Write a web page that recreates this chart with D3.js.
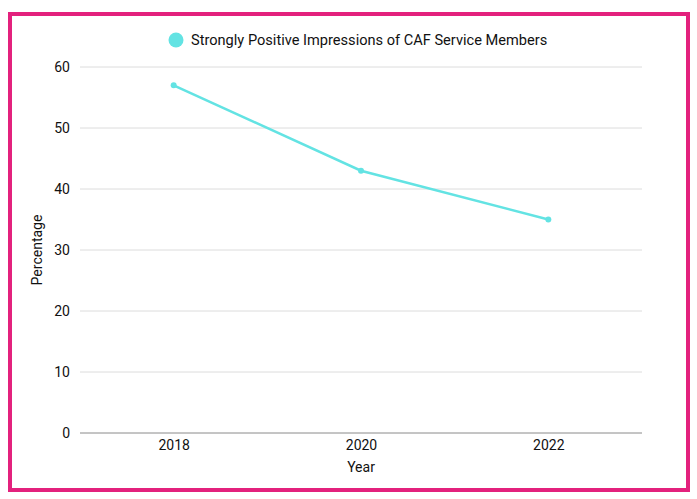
<!DOCTYPE html>
<html><head><meta charset="utf-8">
<script src="https://cdn.jsdelivr.net/npm/d3@7"></script>
<style>body{margin:0;background:#fff;font-family:Roboto,sans-serif;}</style>
</head><body>
<svg id="c" width="697" height="499"></svg>
<script>
const years = ["2018", "2020", "2022"];
const values = [57, 43, 35];
const yTicks = [0, 10, 20, 30, 40, 50, 60];
const seriesName = "Strongly Positive Impressions of CAF Service Members";
const color = "#63e3e3";

(function () {
const svg = d3.select("#c");
svg.append("rect").attr("x", 10).attr("y", 14).attr("width", 678).attr("height", 476)
  .attr("fill", "#fff").attr("stroke", "#e3217d").attr("stroke-width", 4);

const mLeft = 80, mRight = 642, mTop = 67, mBottom = 433;
const x = d3.scalePoint().domain(years).range([mLeft, mRight]).padding(0.5);
const y = d3.scaleLinear().domain([0, 60]).range([mBottom, mTop]);

const g = svg.append("g");
g.selectAll(".grid").data(yTicks).join("line")
  .attr("x1", mLeft).attr("x2", mRight)
  .attr("y1", d => y(d)).attr("y2", d => y(d))
  .attr("stroke", d => d === 0 ? "#8a8a8a" : "#dcdcdc").attr("stroke-width", 1);

const yAxis = svg.append("g").attr("transform", `translate(${mLeft},0)`)
  .call(d3.axisLeft(y).tickValues(yTicks).tickSize(0).tickPadding(10));
yAxis.select(".domain").remove();
yAxis.selectAll("text").attr("font-family", "Roboto").attr("font-size", 14).attr("fill", "#111");

const xAxis = svg.append("g").attr("transform", `translate(0,${mBottom})`)
  .call(d3.axisBottom(x).tickSize(0).tickPadding(7));
xAxis.select(".domain").remove();
xAxis.selectAll("text").attr("font-family", "Roboto").attr("font-size", 14).attr("fill", "#111");

svg.append("text").attr("x", (mLeft + mRight) / 2).attr("y", 472).attr("text-anchor", "middle")
  .attr("font-family", "Roboto").attr("font-size", 14).attr("fill", "#111").text("Year");
svg.append("text").attr("transform", `translate(42,${(mTop + mBottom) / 2}) rotate(-90)`)
  .attr("text-anchor", "middle").attr("font-family", "Roboto").attr("font-size", 14).attr("fill", "#111").text("Percentage");

const data = years.map((yr, i) => ({yr, v: values[i]}));
svg.append("path").datum(data)
  .attr("d", d3.line().x(d => x(d.yr)).y(d => y(d.v)))
  .attr("fill", "none").attr("stroke", color).attr("stroke-width", 2.5);
svg.selectAll(".pt").data(data).join("circle")
  .attr("cx", d => x(d.yr)).attr("cy", d => y(d.v)).attr("r", 3).attr("fill", color);

const lg = svg.append("g");
lg.append("circle").attr("cx", 176).attr("cy", 40).attr("r", 7.5).attr("fill", color);
lg.append("text").attr("x", 191).attr("y", 45).attr("font-family", "Roboto").attr("font-size", 14.6).attr("fill", "#111").text(seriesName);
})();
</script>
</body></html>
